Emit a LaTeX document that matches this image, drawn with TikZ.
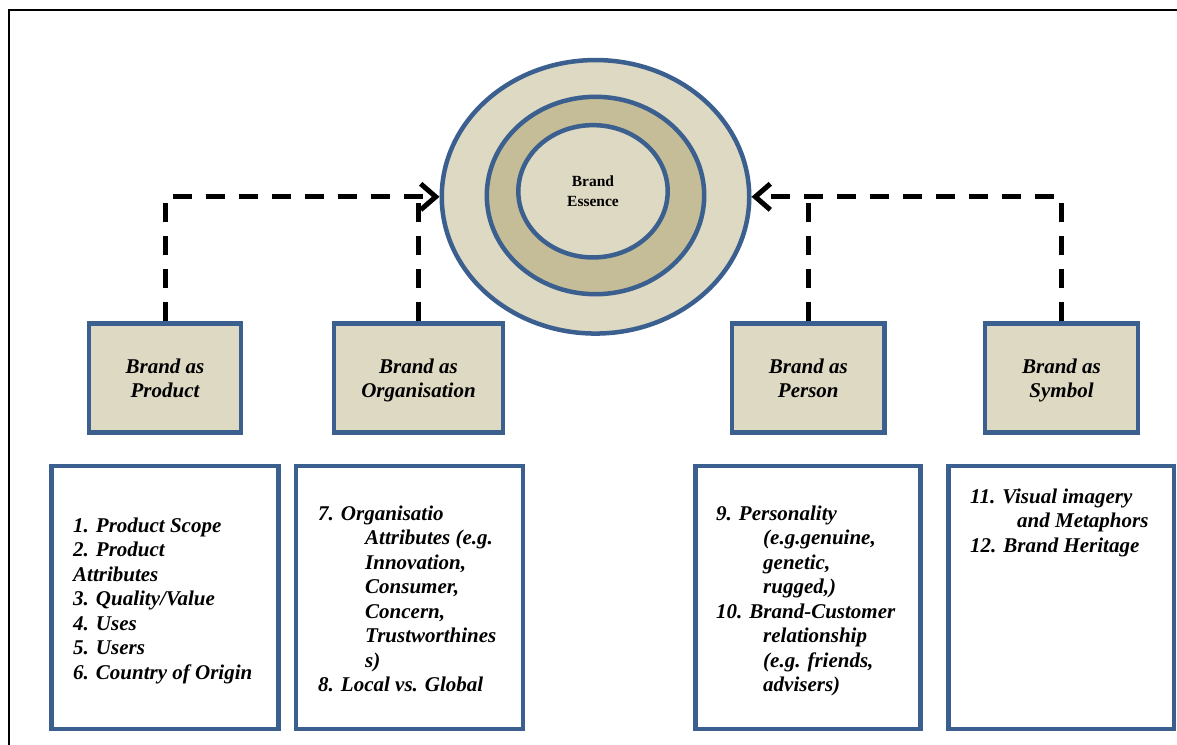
\documentclass[tikz,border=0pt]{standalone}
\usepackage{fontspec}
\setmainfont{Liberation Serif}
\usetikzlibrary{shapes.geometric,arrows.meta}

\definecolor{edgeblue}{RGB}{59,95,142}
\definecolor{sand}{RGB}{221,217,195}
\definecolor{khaki}{RGB}{196,189,151}

% multi-line list text whose baseline is that of its first line
\newcommand\listbody[1]{\parbox[t]{200pt}{\raggedright #1}}
\newcommand\hang{\hspace*{47pt}}

\begin{document}
\begin{tikzpicture}[x=1pt,y=-1pt,
  ring/.style={ellipse, draw=edgeblue, line width=4.5pt, inner sep=0pt},
  facet/.style={rectangle, draw=edgeblue, fill=sand, line width=4.5pt,
    inner sep=0pt, minimum height=109pt, align=center, text depth=0pt,
    font=\fontsize{21}{24}\selectfont\bfseries\itshape},
  detail/.style={rectangle, draw=edgeblue, fill=white, line width=4.5pt,
    inner sep=0pt, minimum height=263.4pt},
  listtext/.style={anchor=base west, inner sep=0pt,
    font=\fontsize{21}{24.5}\selectfont\bfseries\itshape},
  link/.style={draw=black, line width=5pt, dash pattern=on 19pt off 14pt},
  tip/.style={-{Straight Barb[length=15pt,width=26pt]}}
]
\useasboundingbox (0,0) rectangle (1177,744);

% page frame
\draw[line width=1.8pt] (1180,10.3) -- (8.7,10.3) -- (8.7,748);

% brand essence rings
\node[ring, fill=sand, minimum width=307.5pt, minimum height=273.5pt] (outer) at (595.5,196.8) {};
\node[ring, fill=khaki, minimum width=217.4pt, minimum height=197.4pt] (middle) at (595.5,195.5) {};
\node[ring, fill=sand, minimum width=149.4pt, minimum height=132.3pt, align=center,
  font=\fontsize{15.5}{20}\selectfont\bfseries] (core) at (593,191.3) {Brand\\Essence};

% the four facets
\node[facet, minimum width=152pt] (product) at (165,378) {Brand as\\Product};
\node[facet, minimum width=169pt] (organisation) at (418.5,378) {Brand as\\Organisation};
\node[facet, minimum width=152.7pt] (person) at (808.3,378) {Brand as\\Person};
\node[facet, minimum width=153pt] (symbol) at (1061.5,378) {Brand as\\Symbol};

% detail boxes
\node[detail, minimum width=226.6pt] (d1) at (165,597.5) {};
\node[detail, minimum width=227pt] (d2) at (409.5,597.5) {};
\node[detail, minimum width=225pt] (d3) at (808,597.5) {};
\node[detail, minimum width=225.7pt] (d4) at (1061.2,597.5) {};

\node[listtext] (t1) at (73,532) {\listbody{1. Product Scope\\
2. Product\\
Attributes\\
3. Quality/Value\\
4. Uses\\
5. Users\\
6. Country of Origin}};

\node[listtext] (t2) at (318,520) {\listbody{7. Organisatio\\
\hang Attributes (e.g.\\
\hang Innovation,\\
\hang Consumer,\\
\hang Concern,\\
\hang Trustworthines\\
\hang s)\\
8. Local vs. Global}};

\node[listtext] (t3) at (716,520) {\listbody{9. Personality\\
\hang (e.g.genuine,\\
\hang genetic,\\
\hang rugged,)\\
10. Brand-Customer\\
\hang relationship\\
\hang (e.g. friends,\\
\hang advisers)}};

\node[listtext] (t4) at (970,503) {\listbody{11. Visual imagery\\
\hang and Metaphors\\
12. Brand Heritage}};

% dashed connectors into the rings
\coordinate (lbend) at (product.north |- outer.west);
\coordinate (rbend) at (symbol.north |- outer.east);
\draw[link, tip] (product.north) -- (lbend) -- (outer.west);
\draw[link] (organisation.north) -- (organisation.north |- outer.west);
\draw[link, tip] (symbol.north) -- (rbend) -- (outer.east);
\draw[link] (person.north) -- (person.north |- outer.east);
\end{tikzpicture}
\end{document}
